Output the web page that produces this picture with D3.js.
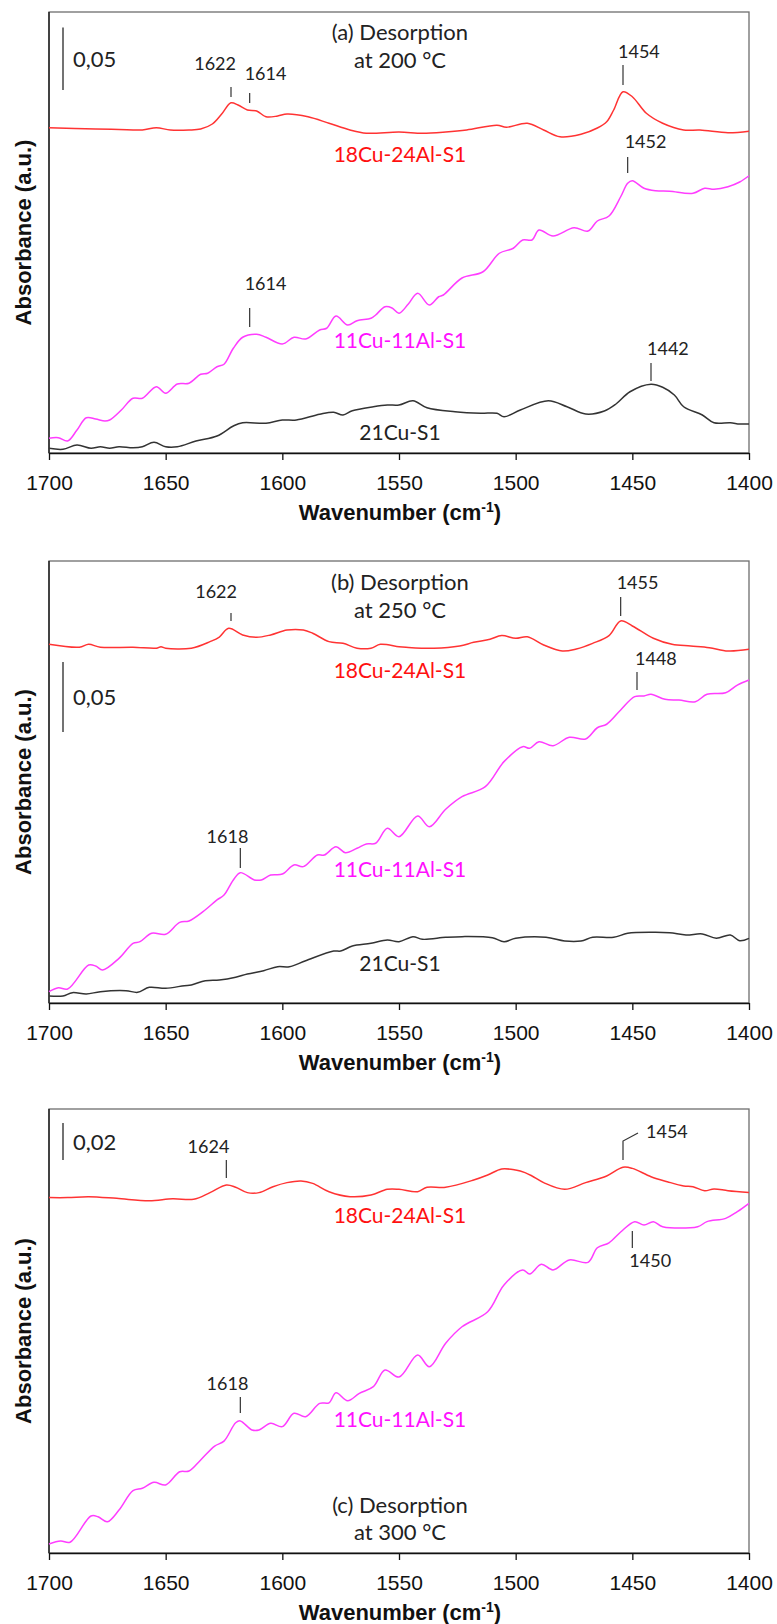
<!DOCTYPE html>
<html>
<head>
<meta charset="utf-8">
<script src="https://cdn.jsdelivr.net/npm/d3@7"></script>
<style>
  body { margin: 0; background: #fff; }
  svg text { font-family: Lato, "Open Sans", sans-serif; }
  .axis text { font-family: "Liberation Sans", Arial, sans-serif; }
</style>
</head>
<body>
<div id="chart"></div>
<script>
// wavenumber ticks shared by all panels
const wnTicks = [1700, 1650, 1600, 1550, 1500, 1450, 1400];

// (a) desorption at 200 °C  -- [wavenumber, absorbance]
const a_18Cu24Al = [[1700,0.2602],[1680,0.2592],[1670,0.2588],[1660,0.2584],[1654,0.2602],[1648,0.2584],[1640,0.2584],[1635,0.2592],[1630,0.2632],[1626,0.2712],[1622,0.2802],[1619,0.2784],[1615,0.2744],[1611,0.2736],[1607,0.2690],[1602,0.2696],[1598,0.2712],[1589,0.2690],[1580,0.2638],[1571,0.2584],[1564,0.2558],[1550,0.2568],[1540,0.2558],[1530,0.2568],[1521,0.2584],[1508,0.2622],[1504,0.2606],[1495,0.2638],[1488,0.2584],[1481,0.2530],[1472,0.2550],[1465,0.2600],[1461,0.2650],[1458,0.2744],[1454,0.2890],[1450,0.2850],[1444,0.2718],[1437,0.2638],[1428,0.2584],[1421,0.2584],[1409,0.2562],[1400,0.2574]];
const a_11Cu11Al = [[1700,0.0118],[1696,0.0122],[1692,0.0096],[1688,0.0184],[1684,0.0282],[1680,0.0272],[1676,0.0256],[1674,0.0264],[1669,0.0344],[1664,0.0438],[1660,0.0438],[1654,0.0530],[1650,0.0478],[1645,0.0552],[1640,0.0558],[1635,0.0630],[1632,0.0638],[1628,0.0690],[1625,0.0710],[1621,0.0838],[1617,0.0926],[1611,0.0950],[1607,0.0926],[1600,0.0872],[1595,0.0926],[1590,0.0912],[1584,0.0984],[1581,0.0998],[1577,0.1096],[1572,0.1024],[1568,0.1058],[1562,0.1078],[1560,0.1104],[1556,0.1170],[1553,0.1160],[1550,0.1118],[1546,0.1192],[1542,0.1278],[1537,0.1184],[1533,0.1250],[1531,0.1264],[1523,0.1400],[1514,0.1450],[1507,0.1598],[1501,0.1638],[1497,0.1704],[1493,0.1704],[1490,0.1784],[1484,0.1736],[1475,0.1802],[1469,0.1776],[1465,0.1856],[1460,0.1896],[1455,0.2050],[1452,0.2158],[1450,0.2178],[1445,0.2118],[1440,0.2098],[1434,0.2094],[1424,0.2078],[1419,0.2118],[1415,0.2110],[1409,0.2130],[1404,0.2168],[1400,0.2218]];
const a_21Cu = [[1700,0.0038],[1694,0.0030],[1688,0.0064],[1682,0.0038],[1678,0.0050],[1674,0.0038],[1670,0.0050],[1664,0.0042],[1660,0.0050],[1655,0.0086],[1650,0.0050],[1645,0.0050],[1637,0.0096],[1628,0.0136],[1621,0.0216],[1617,0.0242],[1607,0.0238],[1600,0.0264],[1594,0.0264],[1584,0.0310],[1578,0.0326],[1574,0.0304],[1570,0.0338],[1561,0.0370],[1555,0.0384],[1550,0.0384],[1544,0.0418],[1538,0.0362],[1526,0.0330],[1515,0.0318],[1508,0.0318],[1505,0.0290],[1498,0.0344],[1486,0.0418],[1478,0.0370],[1470,0.0312],[1462,0.0336],[1457,0.0392],[1451,0.0490],[1442,0.0550],[1437,0.0526],[1432,0.0464],[1428,0.0370],[1420,0.0304],[1415,0.0242],[1408,0.0242],[1404,0.0232],[1400,0.0232]];

// (b) desorption at 250 °C
const b_18Cu24Al = [[1700,0.2562],[1687,0.2541],[1683,0.2562],[1678,0.2541],[1664,0.2541],[1654,0.2534],[1652,0.2545],[1650,0.2534],[1639,0.2534],[1631,0.2581],[1627,0.2614],[1623,0.2676],[1617,0.2629],[1611,0.2612],[1605,0.2629],[1598,0.2664],[1591,0.2664],[1587,0.2641],[1580,0.2581],[1574,0.2569],[1568,0.2534],[1562,0.2534],[1558,0.2562],[1550,0.2545],[1547,0.2541],[1535,0.2534],[1524,0.2550],[1518,0.2576],[1511,0.2598],[1506,0.2624],[1500,0.2605],[1495,0.2616],[1488,0.2557],[1480,0.2514],[1474,0.2529],[1467,0.2569],[1460,0.2624],[1455,0.2729],[1450,0.2693],[1441,0.2605],[1433,0.2562],[1425,0.2550],[1417,0.2538],[1409,0.2514],[1400,0.2526]];
const b_11Cu11Al = [[1700,0.0081],[1696,0.0109],[1692,0.0100],[1683,0.0271],[1680,0.0264],[1677,0.0236],[1670,0.0319],[1664,0.0426],[1661,0.0438],[1656,0.0498],[1650,0.0491],[1644,0.0576],[1640,0.0586],[1634,0.0652],[1628,0.0736],[1625,0.0771],[1621,0.0879],[1618,0.0931],[1612,0.0879],[1609,0.0879],[1605,0.0914],[1600,0.0921],[1595,0.0986],[1591,0.0974],[1585,0.1057],[1582,0.1057],[1577,0.1116],[1573,0.1074],[1568,0.1105],[1564,0.1136],[1560,0.1141],[1555,0.1248],[1550,0.1188],[1542,0.1336],[1537,0.1259],[1530,0.1384],[1523,0.1474],[1513,0.1545],[1505,0.1724],[1497,0.1831],[1494,0.1819],[1490,0.1866],[1484,0.1838],[1477,0.1898],[1470,0.1886],[1465,0.1966],[1461,0.1991],[1455,0.2093],[1449,0.2188],[1445,0.2193],[1442,0.2205],[1436,0.2169],[1430,0.2164],[1423,0.2152],[1418,0.2205],[1410,0.2216],[1405,0.2271],[1400,0.2307]];
const b_21Cu = [[1700,0.0050],[1694,0.0050],[1690,0.0074],[1684,0.0064],[1678,0.0081],[1667,0.0088],[1662,0.0076],[1657,0.0112],[1650,0.0105],[1642,0.0124],[1639,0.0129],[1633,0.0159],[1627,0.0164],[1620,0.0184],[1615,0.0207],[1608,0.0231],[1602,0.0259],[1597,0.0259],[1590,0.0302],[1578,0.0371],[1575,0.0371],[1570,0.0407],[1562,0.0426],[1555,0.0450],[1550,0.0438],[1544,0.0474],[1540,0.0455],[1530,0.0469],[1523,0.0474],[1510,0.0466],[1505,0.0438],[1500,0.0462],[1487,0.0469],[1479,0.0443],[1472,0.0443],[1467,0.0469],[1458,0.0469],[1452,0.0498],[1441,0.0505],[1434,0.0502],[1427,0.0486],[1420,0.0493],[1414,0.0462],[1408,0.0486],[1404,0.0445],[1400,0.0462]];

// (c) desorption at 300 °C
const c_18Cu24Al = [[1700,0.1921],[1692,0.1921],[1683,0.1926],[1671,0.1917],[1657,0.1904],[1647,0.1915],[1638,0.1912],[1631,0.1948],[1624,0.1989],[1620,0.1977],[1615,0.1948],[1610,0.1948],[1604,0.1980],[1598,0.2002],[1592,0.2011],[1587,0.1998],[1580,0.1953],[1571,0.1926],[1562,0.1935],[1555,0.1966],[1550,0.1966],[1542,0.1953],[1538,0.1977],[1530,0.1977],[1518,0.2016],[1512,0.2043],[1506,0.2076],[1500,0.2070],[1496,0.2056],[1493,0.2038],[1488,0.2002],[1479,0.1966],[1470,0.2002],[1461,0.2038],[1454,0.2085],[1450,0.2079],[1442,0.2034],[1435,0.2007],[1428,0.1984],[1424,0.1980],[1419,0.1958],[1415,0.1968],[1409,0.1958],[1400,0.1948]];
const c_11Cu11Al = [[1700,0.0049],[1695,0.0065],[1691,0.0058],[1682,0.0200],[1679,0.0196],[1675,0.0169],[1670,0.0232],[1664,0.0337],[1660,0.0350],[1655,0.0382],[1650,0.0368],[1644,0.0439],[1640,0.0443],[1635,0.0503],[1629,0.0578],[1625,0.0605],[1620,0.0704],[1618,0.0714],[1613,0.0665],[1610,0.0665],[1605,0.0701],[1600,0.0683],[1595,0.0755],[1590,0.0737],[1584,0.0809],[1580,0.0812],[1577,0.0866],[1572,0.0823],[1567,0.0863],[1561,0.0899],[1556,0.0989],[1550,0.0951],[1542,0.1070],[1537,0.1007],[1530,0.1134],[1523,0.1223],[1512,0.1304],[1505,0.1449],[1497,0.1530],[1494,0.1508],[1489,0.1561],[1484,0.1530],[1477,0.1584],[1469,0.1571],[1465,0.1650],[1460,0.1677],[1455,0.1735],[1449,0.1791],[1445,0.1773],[1441,0.1791],[1437,0.1764],[1422,0.1764],[1418,0.1791],[1410,0.1809],[1405,0.1845],[1400,0.1890]];

// sample names / colours
const sampleNames = ["18Cu-24Al-S1", "11Cu-11Al-S1", "21Cu-S1"];
const lineColors = ["#ff3333", "#ff3dff", "#333333"];
const textColors = ["#ff1010", "#ff10ff", "#222222"];

// peak annotations: [wavenumber, label, absorbance at tick end]
const peaksA = [[1622, "1622", 0.2848], [1614, "1614", 0.2800], [1454, "1454", 0.2944], [1452, "1452", 0.2240], [1614, "1614", 0.1008], [1442, "1442", 0.0576]];
const peaksB = [[1622, "1622", 0.2729], [1455, "1455", 0.2764], [1448, "1448", 0.2236], [1618, "1618", 0.0964]];
const peaksC = [[1624, "1624", 0.2027], [1454, "1454", 0.2124], [1450, "1450", 0.1741], [1618, "1618", 0.0757]];

// scale bars: [size, start absorbance]
const scaleBars = [[0.05, 0.2904], [0.05, 0.1936], [0.02, 0.2124]];
const panelTitles = [["(a) Desorption", "at 200 °C"], ["(b) Desorption", "at 250 °C"], ["(c) Desorption", "at 300 °C"]];

// layout (pixels)
const W = 777, H = 1624, left = 49, plotW = 700;
const panels = [
  { top: 12, h: 441, yMax: 0.3528, series: [a_18Cu24Al, a_11Cu11Al, a_21Cu], peaks: peaksA,
    nameAt: [0.2328, 0.0840, 0.0104],
    peakStyle: [{len:10, gap:17, anchor:"end", dx:5}, {len:10, gap:13, anchor:"start", dx:-5}, {len:20, gap:7, anchor:"start", dx:-5}, {len:16, gap:9, anchor:"start", dx:-3}, {len:19, gap:18, anchor:"start", dx:-5}, {len:18, gap:8, anchor:"start", dx:-4}],
    titleY: [28, 56] },
  { top: 561, h: 442, yMax: 0.3157, series: [b_18Cu24Al, b_11Cu11Al, b_21Cu], peaks: peaksB,
    nameAt: [0.2321, 0.0900, 0.0229],
    peakStyle: [{len:8, gap:15, anchor:"end", dx:6}, {len:19, gap:8, anchor:"start", dx:-4}, {len:18, gap:7, anchor:"start", dx:-2}, {len:20, gap:5, anchor:"end", dx:8}],
    titleY: [29, 57] },
  { top: 1109, h: 444, yMax: 0.24, series: [c_18Cu24Al, c_11Cu11Al], peaks: peaksC,
    nameAt: [0.1784, 0.0681],
    peakStyle: [{len:18, gap:7, anchor:"end", dx:3}, {len:19, elbow:true}, {len:17, down:true, gap:19, anchor:"start", dx:-3}, {len:16, gap:7, anchor:"end", dx:8}],
    titleY: [404, 431] }
];

const svg = d3.select("#chart").append("svg")
  .attr("width", W).attr("height", H)
  .style("background", "#fff");

const x = d3.scaleLinear().domain([1700, 1400]).range([left, left + plotW]);
const midWn = 1549.6;

panels.forEach((p, pi) => {
  const bottom = p.top + p.h;
  const y = d3.scaleLinear().domain([0, p.yMax]).range([bottom, p.top]);
  const g = svg.append("g");

  // frame
  g.append("rect")
    .attr("x", left).attr("y", p.top)
    .attr("width", plotW).attr("height", p.h)
    .attr("fill", "none").attr("stroke", "#6e6e6e").attr("stroke-width", 1.3);
  g.append("line")
    .attr("x1", left).attr("x2", left).attr("y1", p.top).attr("y2", bottom)
    .attr("stroke", "#111").attr("stroke-width", 1.3);

  // x axis
  const ax = g.append("g").attr("class", "axis")
    .attr("transform", "translate(0," + bottom + ")")
    .call(d3.axisBottom(x).tickValues(wnTicks).tickSize(7).tickSizeOuter(0).tickPadding(15).tickFormat(d3.format("d")));
  ax.select(".domain").attr("stroke", "#111").attr("stroke-width", 1.3);
  ax.selectAll(".tick line").attr("stroke", "#111").attr("stroke-width", 1.3);
  ax.selectAll(".tick text").attr("font-size", 21).attr("fill", "#111");

  // x axis title
  const xt = g.append("text")
    .attr("class", "axis")
    .attr("x", x(midWn)).attr("y", bottom + 67)
    .attr("text-anchor", "middle")
    .style("font-family", "'Liberation Sans', Arial, sans-serif")
    .style("font-weight", "bold").style("font-size", "22px").attr("fill", "#111");
  xt.append("tspan").text("Wavenumber  (cm");
  xt.append("tspan").text("-1").attr("dy", -8).style("font-size", "14px");
  xt.append("tspan").text(")").attr("dy", 8);

  // y axis title
  g.append("text")
    .attr("transform", "translate(31," + (p.top + p.h / 2) + ") rotate(-90)")
    .attr("text-anchor", "middle")
    .style("font-family", "'Liberation Sans', Arial, sans-serif")
    .style("font-weight", "bold").style("font-size", "22px").attr("fill", "#111")
    .text("Absorbance  (a.u.)");

  // spectra
  const line = d3.line()
    .x((d) => x(d[0]))
    .y((d) => y(d[1]))
    .curve(d3.curveCatmullRom.alpha(0.5));
  p.series.forEach((s, si) => {
    g.append("path")
      .datum(s)
      .attr("d", line)
      .attr("fill", "none")
      .attr("stroke", lineColors[si])
      .attr("stroke-width", 1.5)
      .attr("stroke-linejoin", "round");
    g.append("text")
      .attr("x", x(midWn)).attr("y", y(p.nameAt[si]))
      .attr("text-anchor", "middle")
      .style("font-size", "21px")
      .attr("fill", textColors[si])
      .text(sampleNames[si]);
  });

  // scale bar
  const sb = scaleBars[pi];
  const sbx = x(1694);
  g.append("line")
    .attr("x1", sbx).attr("x2", sbx)
    .attr("y1", y(sb[1])).attr("y2", y(sb[1] + sb[0]))
    .attr("stroke", "#444").attr("stroke-width", 1.5);
  g.append("text")
    .attr("x", sbx + 10).attr("y", (y(sb[1]) + y(sb[1] + sb[0])) / 2 + 8)
    .style("font-size", "22px").attr("fill", "#222")
    .text(d3.format(".2f")(sb[0]).replace(".", ","));

  // title
  panelTitles[pi].forEach((t, ti) => {
    g.append("text")
      .attr("x", x(midWn)).attr("y", p.top + p.titleY[ti])
      .attr("text-anchor", "middle")
      .style("font-size", "22px").attr("fill", "#222")
      .text(t);
  });

  // peak labels
  p.peaks.forEach((pk, ki) => {
    const st = p.peakStyle[ki];
    const px = x(pk[0]), py = y(pk[2]);
    if (st.elbow) {
      g.append("path")
        .attr("d", d3.line()([[px, py], [px, py - st.len], [px + 15, py - st.len - 8]]))
        .attr("fill", "none").attr("stroke", "#333").attr("stroke-width", 1.2);
      g.append("text")
        .attr("x", px + 23).attr("y", py - st.len - 3)
        .style("font-size", "18px").attr("fill", "#222")
        .text(pk[1]);
      return;
    }
    const y1 = py, y2 = st.down ? py + st.len : py - st.len;
    g.append("line")
      .attr("x1", px).attr("x2", px).attr("y1", y1).attr("y2", y2)
      .attr("stroke", "#333").attr("stroke-width", 1.2);
    g.append("text")
      .attr("x", px + st.dx)
      .attr("y", st.down ? y2 + st.gap : y2 - st.gap)
      .attr("text-anchor", st.anchor)
      .style("font-size", "18px").attr("fill", "#222")
      .text(pk[1]);
  });
});
</script>
</body>
</html>
